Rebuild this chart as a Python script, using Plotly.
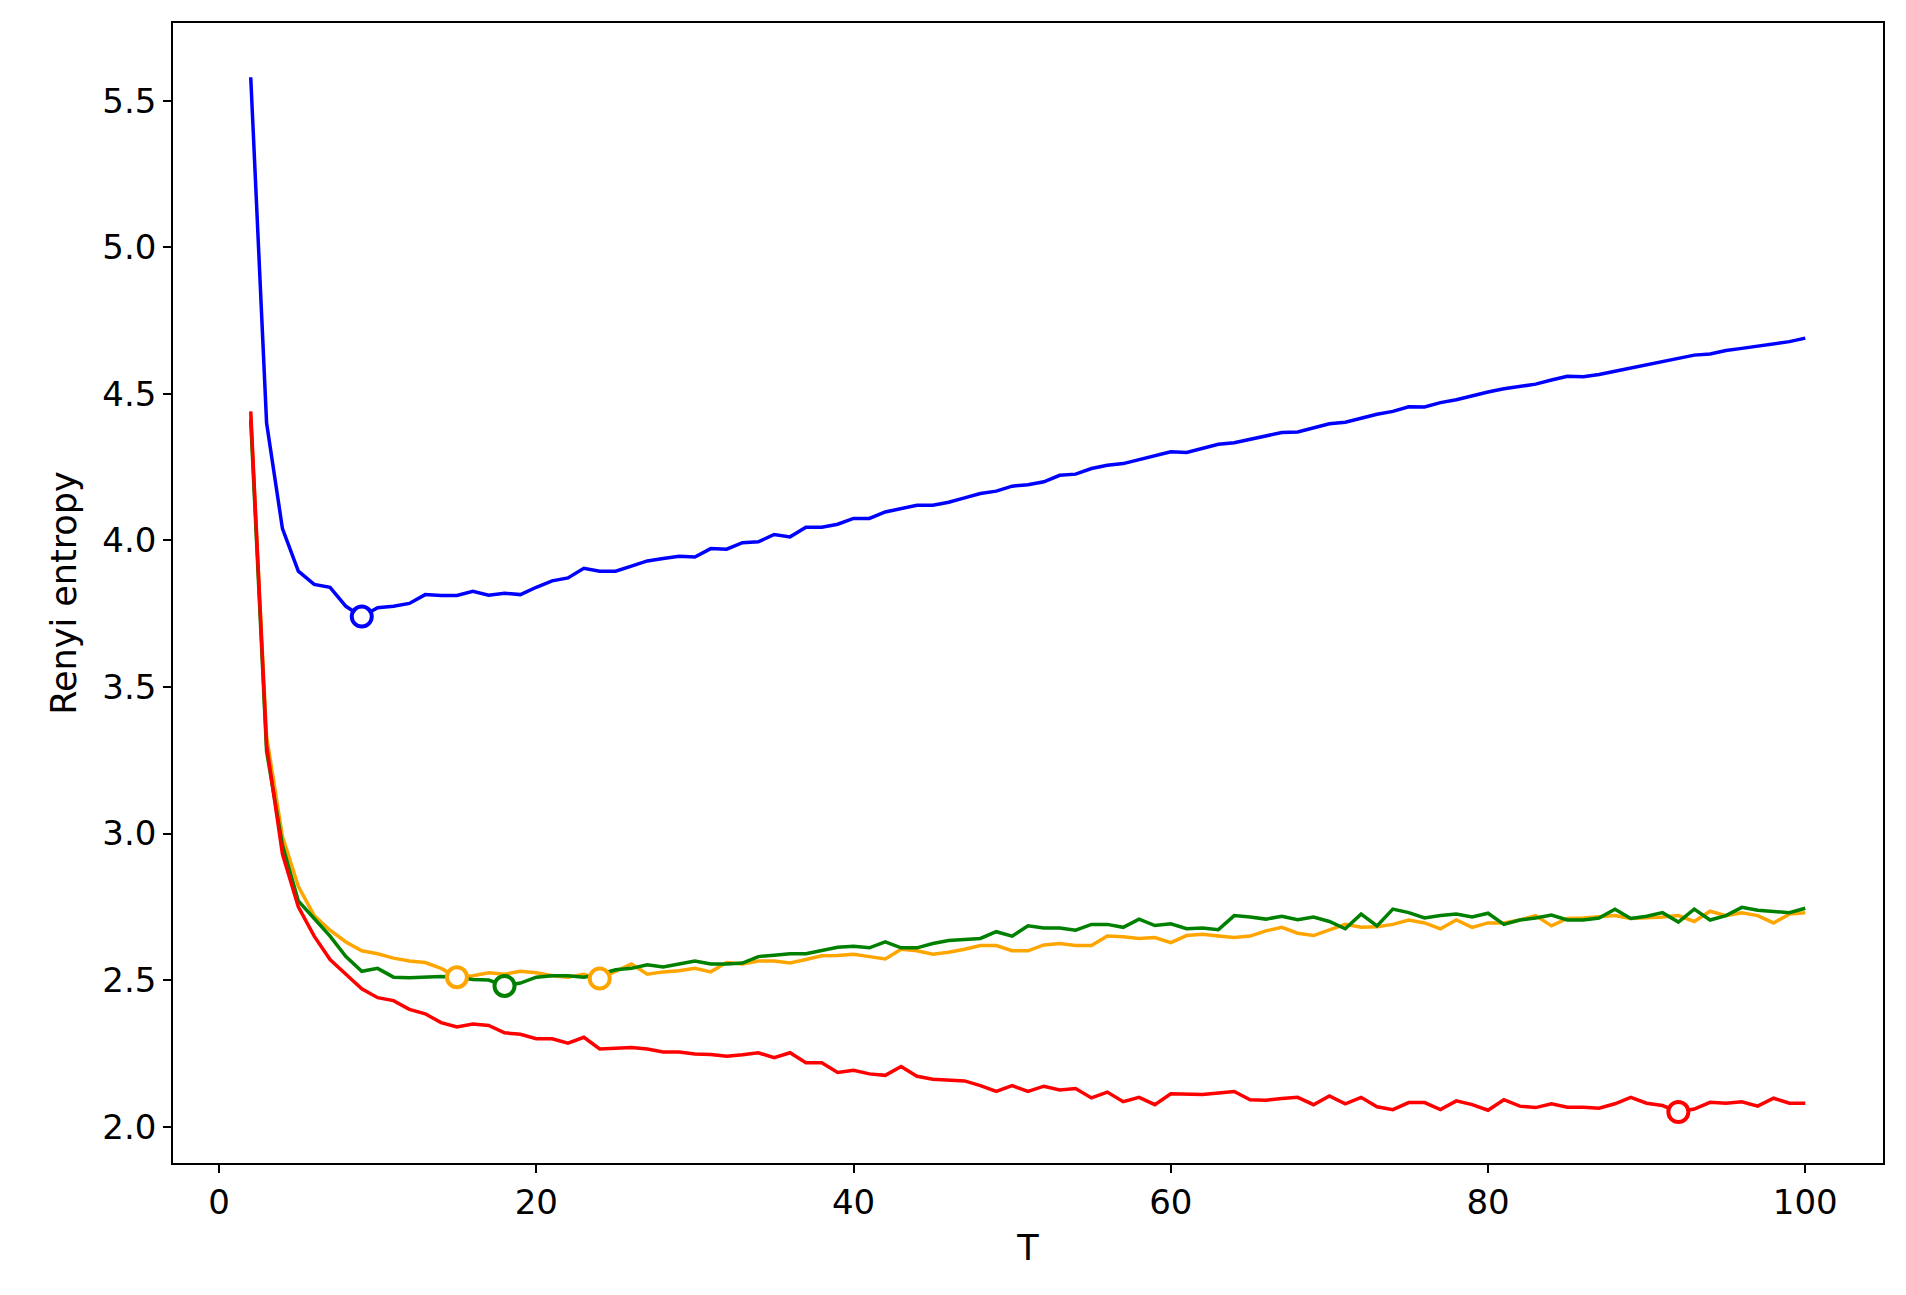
import plotly.graph_objects as go

T = list(range(2, 101))

blue = [5.58, 4.40, 4.04, 3.895, 3.85, 3.84, 3.775, 3.74, 3.77, 3.775,
        3.785, 3.815, 3.812, 3.812, 3.826, 3.813, 3.82, 3.815, 3.84, 3.862,
        3.872, 3.905, 3.895, 3.895, 3.912, 3.93, 3.938, 3.946, 3.943, 3.972,
        3.97, 3.992, 3.995, 4.02, 4.012, 4.045, 4.045, 4.055, 4.075, 4.075,
        4.097, 4.108, 4.12, 4.12, 4.13, 4.145, 4.16, 4.168, 4.185, 4.19,
        4.2, 4.222, 4.226, 4.245, 4.256, 4.262, 4.275, 4.29, 4.302, 4.3,
        4.314, 4.328, 4.333, 4.345, 4.354, 4.368, 4.37, 4.384, 4.398, 4.403,
        4.418, 4.43, 4.44, 4.456, 4.455, 4.47, 4.48, 4.494, 4.506, 4.517,
        4.525, 4.533, 4.547, 4.56, 4.558, 4.566, 4.577, 4.588, 4.598, 4.61,
        4.62, 4.632, 4.636, 4.648, 4.655, 4.662, 4.672, 4.678, 4.69]

red = [4.44, 3.30, 2.93, 2.75, 2.65, 2.57, 2.52, 2.47, 2.44, 2.43,
       2.40, 2.385, 2.355, 2.34, 2.35, 2.345, 2.32, 2.315, 2.30, 2.30,
       2.285, 2.305, 2.265, 2.268, 2.27, 2.265, 2.255, 2.255, 2.248, 2.246,
       2.24, 2.245, 2.252, 2.235, 2.252, 2.218, 2.218, 2.185, 2.192, 2.18,
       2.175, 2.205, 2.172, 2.162, 2.158, 2.156, 2.14, 2.12, 2.14, 2.12,
       2.138, 2.125, 2.13, 2.098, 2.118, 2.085, 2.1, 2.075, 2.112, 2.112,
       2.11, 2.115, 2.12, 2.092, 2.09, 2.096, 2.1, 2.075, 2.105, 2.078,
       2.1, 2.068, 2.058, 2.082, 2.082, 2.058, 2.088, 2.075, 2.056, 2.092,
       2.07, 2.065, 2.078, 2.066, 2.066, 2.063, 2.078, 2.1, 2.08, 2.072,
       2.05, 2.06, 2.083, 2.08, 2.085, 2.07, 2.097, 2.08, 2.08]

orange = [4.42, 3.33, 2.99, 2.82, 2.72, 2.67, 2.63, 2.60, 2.59, 2.575,
          2.565, 2.56, 2.54, 2.51, 2.515, 2.525, 2.52, 2.53, 2.525, 2.515,
          2.51, 2.52, 2.505, 2.53, 2.555, 2.52, 2.528, 2.532, 2.54, 2.528,
          2.56, 2.555, 2.565, 2.565, 2.558, 2.57, 2.583, 2.584, 2.588, 2.58,
          2.572, 2.605, 2.6, 2.588, 2.595, 2.605, 2.618, 2.618, 2.6, 2.6,
          2.62, 2.625, 2.618, 2.618, 2.65, 2.648, 2.642, 2.645, 2.628, 2.652,
          2.656, 2.65, 2.645, 2.65, 2.668, 2.68, 2.66, 2.652, 2.67, 2.69,
          2.68, 2.682, 2.69, 2.705, 2.695, 2.675, 2.705, 2.68, 2.695, 2.695,
          2.705, 2.72, 2.685, 2.71, 2.712, 2.715, 2.72, 2.71, 2.712, 2.715,
          2.72, 2.7, 2.735, 2.72, 2.73, 2.72, 2.695, 2.725, 2.73]

green = [4.41, 3.28, 2.96, 2.77, 2.71, 2.65, 2.58, 2.53, 2.54, 2.51,
         2.508, 2.51, 2.512, 2.51, 2.502, 2.5, 2.48, 2.49, 2.51, 2.515,
         2.515, 2.51, 2.52, 2.535, 2.54, 2.552, 2.545, 2.555, 2.565, 2.555,
         2.555, 2.558, 2.58, 2.585, 2.59, 2.59, 2.6, 2.612, 2.615, 2.61,
         2.63, 2.61, 2.61, 2.625, 2.635, 2.64, 2.642, 2.665, 2.65, 2.685,
         2.678, 2.678, 2.67, 2.69, 2.69, 2.68, 2.708, 2.686, 2.692, 2.675,
         2.678, 2.672, 2.72, 2.715, 2.708, 2.718, 2.706, 2.715, 2.7, 2.675,
         2.725, 2.685, 2.742, 2.73, 2.712, 2.72, 2.725, 2.715, 2.728, 2.69,
         2.705, 2.712, 2.722, 2.705, 2.705, 2.712, 2.742, 2.71, 2.718, 2.73,
         2.698, 2.742, 2.705, 2.72, 2.748, 2.738, 2.735, 2.73, 2.745]

# highlighted minima (T values)
marks = [("blue", blue, [9]), ("orange", orange, [15, 24]),
         ("green", green, [18]), ("red", red, [92])]

fig = go.Figure()
for color, ys in [("blue", blue), ("orange", orange), ("green", green), ("red", red)]:
    fig.add_trace(go.Scatter(x=T, y=ys, mode="lines",
                             line=dict(color=color, width=3.5), showlegend=False))

for color, ys, ts in marks:
    fig.add_trace(go.Scatter(x=ts, y=[ys[t - 2] for t in ts], mode="markers",
                             marker=dict(symbol="circle", size=20, color="white",
                                         line=dict(color=color, width=4)),
                             showlegend=False))

axis = dict(showgrid=False, zeroline=False, showline=True, mirror=True,
            linecolor="black", linewidth=1.5, ticks="outside", ticklen=8,
            tickwidth=1.5, tickcolor="black", tickfont=dict(size=34))
fig.update_xaxes(range=[-2.9, 104.9], dtick=20, title=dict(text="T", font=dict(size=35)), **axis)
fig.update_yaxes(range=[1.876, 5.765], dtick=0.5, tickformat=".1f",
                 title=dict(text="Renyi entropy", font=dict(size=35)), **axis)
fig.update_layout(width=1906, height=1295, plot_bgcolor="white", paper_bgcolor="white",
                  font=dict(family="DejaVu Sans", color="black"),
                  margin=dict(l=165, r=31, t=15, b=140))

fig.write_html("out.html")
